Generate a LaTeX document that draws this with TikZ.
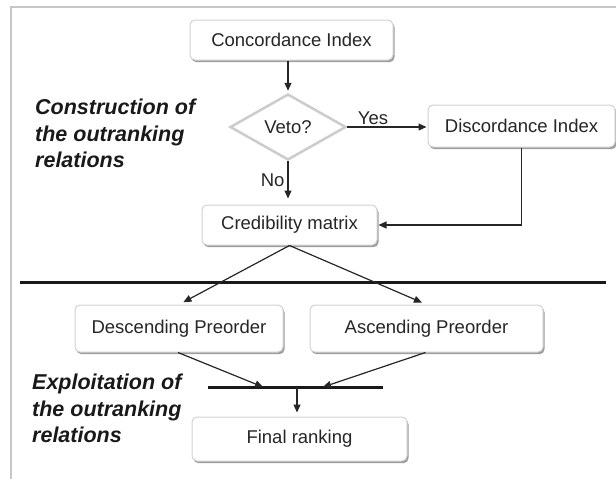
\documentclass[tikz,border=0pt]{standalone}
\usepackage{fontspec}
\setmainfont{Liberation Sans}
\usetikzlibrary{arrows.meta,shapes.geometric,shadows}
\begin{document}
\begin{tikzpicture}[x=1pt,y=-1pt,
  box/.style={draw=black!18, line width=1pt, fill=white, rounded corners=5pt, text=black!85,
    font=\fontsize{18.5}{22}\selectfont, inner sep=0pt,
    drop shadow={shadow xshift=1.5pt, shadow yshift=-2.2pt, fill=black!55, opacity=0.7}},
  dia/.style={shape=diamond, draw=black!20, line width=2.5pt, fill=white, inner sep=0pt,
    text=black!85, font=\fontsize{18.5}{22}\selectfont},
  lbl/.style={font=\fontsize{21.5}{26.5}\selectfont\bfseries\itshape, align=left,
    anchor=north west, inner sep=0pt, text=black!90},
  small/.style={font=\fontsize{18.5}{22}\selectfont, text=black!85, inner sep=1pt},
  arr/.style={-{Triangle[length=8pt,width=7pt]}, line width=1.2pt, draw=black!85},
  bar/.style={line width=3pt, draw=black!90},
  frame/.style={draw=black!22, line width=1.5pt}
]
\useasboundingbox (0,0) rectangle (616,479);
\draw[frame] (11,479) -- (11,7) -- (616,7);

% nodes
\node[box, minimum width=203pt, minimum height=40pt] (conc) at (291.5,40) {Concordance Index};
\node[dia, minimum width=116pt, minimum height=66pt] (veto) at (288,127) {Veto?};
\node[box, minimum width=187pt, minimum height=42pt] (disc) at (521.5,126) {Discordance Index};
\node[box, minimum width=175pt, minimum height=40pt] (cred) at (289.5,225) {Credibility matrix};
\node[box, minimum width=208pt, minimum height=47pt] (desc) at (179,328.5) {Descending Preorder};
\node[box, minimum width=233pt, minimum height=47pt] (asc) at (426.5,328.5) {Ascending Preorder};
\node[box, minimum width=215pt, minimum height=44pt] (final) at (299.5,439) {Final ranking};

\node[lbl] (lab1) at (35,99) {Construction of\\the outranking\\relations};
\node[lbl] (lab2) at (32,374) {Exploitation of\\the outranking\\relations};

% separators
\coordinate (sL) at (20,282);
\coordinate (sR) at (606,282);
\draw[bar] (sL) -- (sR);
\coordinate (bL) at (208,387);
\coordinate (bR) at (383,387);
\coordinate (b1) at (263,387);
\coordinate (b2) at (323,387);
\coordinate (bc) at (297,387);
\draw[bar] (bL) -- (bR);

% connectors
\draw[arr, shorten >=2pt] (veto.north |- conc.south) -- (veto.north);
\draw[arr, shorten >=1pt] (veto.east) -- (veto.east -| disc.west)
  node[small, above=1pt, pos=0.32] (yes) {Yes};
\draw[arr, shorten >=6pt] (veto.south) -- (veto.south |- cred.north)
  node[small, left=2pt, pos=0.45] (no) {No};
\draw[arr, shorten >=1pt] (disc.south) |- (cred.east);
\draw[arr, shorten >=5pt] (cred.south) -- (desc.north);
\draw[arr, shorten >=5pt] (cred.south) -- (asc.north);
\draw[arr] ([xshift=-1pt]desc.south) -- (b1);
\draw[arr] ([xshift=-1pt]asc.south) -- (b2);
\draw[arr, shorten >=4pt] (bc) -- (bc |- final.north);
\end{tikzpicture}
\end{document}
